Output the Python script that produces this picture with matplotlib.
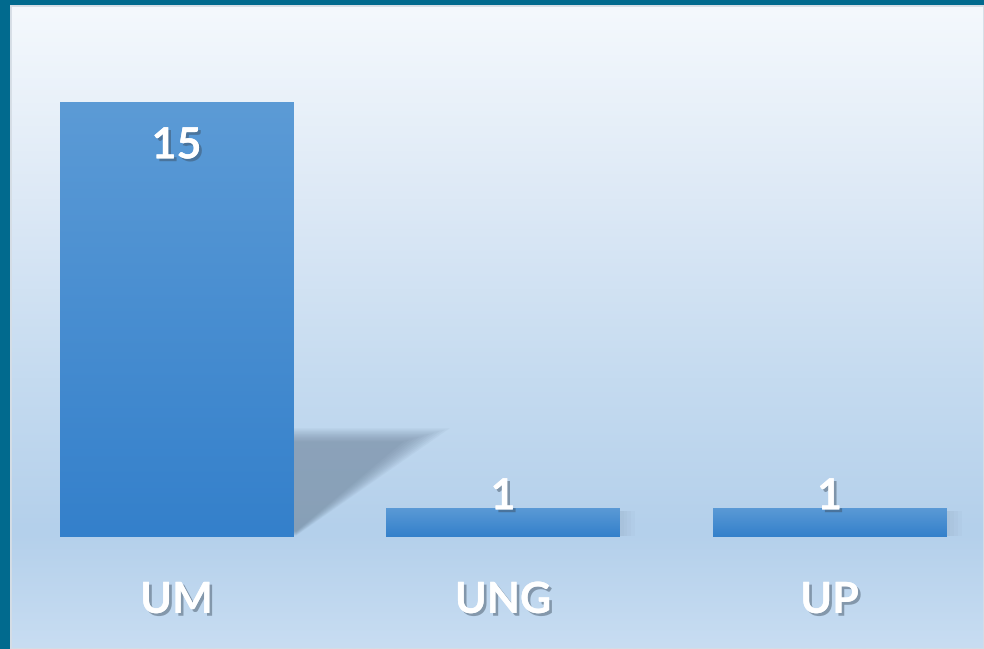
import matplotlib
matplotlib.use("Agg")
import matplotlib.pyplot as plt
import matplotlib.patheffects as pe
from matplotlib.colors import LinearSegmentedColormap
from matplotlib.patches import Polygon, Rectangle
import numpy as np

categories = ["UM", "UNG", "UP"]
values = [15, 1, 1]

W, H, DPI = 984, 649, 100
fig = plt.figure(figsize=(W / DPI, H / DPI), dpi=DPI)
fig.patch.set_facecolor("#016a8e")

# panel inside the teal frame
ax = fig.add_axes([10 / W, 0, (W - 10) / W, (H - 5) / H])
ax.set_xlim(-0.51, 2.473)
ax.set_ylim(-3.86, 18.34)
ax.axis("off")

# background gradient (top -> bottom)
bg = LinearSegmentedColormap.from_list(
    "bg", [(0.0, "#f5f9fd"), (0.3, "#dde9f6"), (0.58, "#c5dbf0"),
           (0.82, "#b4d0eb"), (1.0, "#c8ddf2")])
grad = np.linspace(0, 1, 256).reshape(-1, 1)
ax.imshow(grad, cmap=bg, aspect="auto", extent=(-0.51, 2.473, -3.86, 18.34),
          origin="upper", zorder=0)
ax.add_patch(Rectangle((0, 0), 1, 1, transform=ax.transAxes, fill=False,
                       edgecolor="#d5dde5", linewidth=2, zorder=1))

bar_cmap = LinearSegmentedColormap.from_list("bar", ["#3480cb", "#5c9bd6"])
width = 0.714
x = np.arange(len(categories))
bars = ax.bar(x, values, width=width, color="none", zorder=3)

# soft shadows
for b in bars:
    x1 = b.get_x() + b.get_width()
    h = b.get_height()
    if h > 5:
        n = 10
        for k in range(n):
            t = k / (n - 1)
            top = 3.75 - 0.45 * t
            right = x1 + 0.48 - 0.14 * t
            bot = 0.05 + 0.15 * t
            ax.add_patch(Polygon([(x1, top), (right, top), (x1 + 0.01, bot), (x1, bot)],
                                 closed=True, facecolor="#5d7288", alpha=0.062,
                                 edgecolor="none", zorder=2))
    else:
        for k in range(4):
            ax.add_patch(Rectangle((x1, 0.05), 0.012 + k * 0.012, h * 0.85,
                                   facecolor="#5f748a", alpha=0.035,
                                   edgecolor="none", zorder=2))

# gradient fill clipped to each bar
for b in bars:
    x0, w, h = b.get_x(), b.get_width(), b.get_height()
    im = ax.imshow(grad, cmap=bar_cmap, aspect="auto",
                   extent=(x0, x0 + w, 0, h), origin="lower", zorder=3)
    im.set_clip_path(b)

shadow = [pe.withSimplePatchShadow(offset=(2, -2), shadow_rgbFace="#3a4a5a", alpha=0.45),
          pe.Normal()]
for xi, v in zip(x, values):
    if v > 5:
        ax.text(xi, v - 1.5, str(v), ha="center", va="center", fontsize=31,
                fontweight="bold", family="Lato", color="white",
                path_effects=shadow, zorder=5)
    else:
        ax.text(xi, v + 0.4, str(v), ha="center", va="center", fontsize=31,
                fontweight="bold", family="Lato", color="white",
                path_effects=shadow, zorder=5)

for xi, c in zip(x, categories):
    ax.text(xi, -2.17, c, ha="center", va="center", fontsize=31,
            fontweight="bold", family="Lato", color="white",
            path_effects=shadow, zorder=5)

fig.savefig("out.png", dpi=DPI, facecolor=fig.get_facecolor())
